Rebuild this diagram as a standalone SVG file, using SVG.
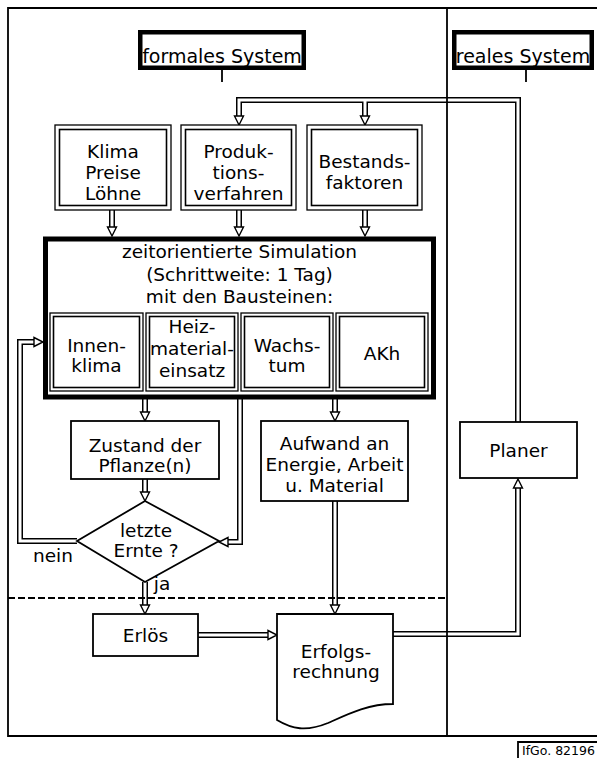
<svg xmlns="http://www.w3.org/2000/svg" width="597" height="758" viewBox="0 0 597 758">
<defs>
<style>
.t{font-family:"DejaVu Sans","Liberation Sans",sans-serif;font-size:18.5px;fill:#000;text-anchor:middle}
.ts{font-family:"DejaVu Sans","Liberation Sans",sans-serif;font-size:12.5px;fill:#000}
.box{fill:#fff;stroke:#000;stroke-width:1.8}
.dbo{fill:#fff;stroke:#000;stroke-width:1.3}
.dbi{fill:none;stroke:#000;stroke-width:1.6}
.thick{fill:#fff;stroke:#000;stroke-width:4.5}
.po{fill:none;stroke:#000;stroke-width:6;stroke-linejoin:miter}
.pi{fill:none;stroke:#fff;stroke-width:3;stroke-linejoin:miter;marker-end:url(#ah)}
.line{fill:none;stroke:#000;stroke-width:1.8}
.dash{fill:none;stroke:#000;stroke-width:1.8;stroke-dasharray:7 3}
</style>
<marker id="ah" viewBox="0 0 10 10" markerWidth="10" markerHeight="10" markerUnits="userSpaceOnUse" refX="0.5" refY="5" orient="auto" overflow="visible">
<path d="M0.5,0.5 L9.5,5 L0.5,9.5 Z" fill="#fff" stroke="#000" stroke-width="1.4"/>
</marker>
</defs>
<rect x="0" y="0" width="597" height="758" fill="#fff"/>

<g id="connectors">
<path class="po" d="M518,422 V100 H239 V116"/>
<path class="po" d="M365,100 V116"/>
<path class="po" d="M112,210 V227"/>
<path class="po" d="M239,210 V227"/>
<path class="po" d="M365,210 V227"/>
<path class="po" d="M145,399 V412"/>
<path class="po" d="M240,399 V542 H228"/>
<path class="po" d="M335,399 V412"/>
<path class="po" d="M145,479 V492"/>
<path class="po" d="M77,541 H20 V342 H34"/>
<path class="po" d="M145,582 V605"/>
<path class="po" d="M198,635 H268"/>
<path class="po" d="M335,501 V605"/>
<path class="po" d="M393,634 H518 V488"/>
<path class="pi" d="M518,422 V100 H239 V116"/>
<path class="pi" d="M365,100 V116"/>
<path class="pi" d="M112,210 V227"/>
<path class="pi" d="M239,210 V227"/>
<path class="pi" d="M365,210 V227"/>
<path class="pi" d="M145,399 V412"/>
<path class="pi" d="M240,399 V542 H228"/>
<path class="pi" d="M335,399 V412"/>
<path class="pi" d="M145,479 V492"/>
<path class="pi" d="M77,541 H20 V342 H34"/>
<path class="pi" d="M145,582 V605"/>
<path class="pi" d="M198,635 H268"/>
<path class="pi" d="M335,501 V605"/>
<path class="pi" d="M393,634 H518 V488"/>
</g>

<g id="frame">
<path class="line" d="M597,8 H8 V736 H597"/>
<path class="line" d="M447,8 V736"/>
<path class="dash" d="M8,598 H447"/>
</g>

<g id="formales-system">
<rect class="thick" x="140.25" y="32.25" width="163.5" height="35.5"/>
<path class="line" d="M222,70 V82"/>
<text class="t" x="222" y="63" style="font-size:19px">formales System</text>
</g>

<g id="reales-system">
<rect class="thick" x="454.25" y="32.25" width="137.5" height="35.5"/>
<path class="line" d="M526,70 V82"/>
<text class="t" x="523" y="63" style="font-size:19px">reales System</text>
</g>

<g id="klima">
<rect class="dbo" x="55" y="125" width="116" height="85"/>
<rect class="dbi" x="59.5" y="129.5" width="107" height="76"/>
<text class="t" x="113" y="158">Klima</text>
<text class="t" x="113" y="179">Preise</text>
<text class="t" x="113" y="200">Löhne</text>
</g>

<g id="produktionsverfahren">
<rect class="dbo" x="181" y="125" width="115" height="85"/>
<rect class="dbi" x="185.5" y="129.5" width="106" height="76"/>
<text class="t" x="238.5" y="158">Produk-</text>
<text class="t" x="238.5" y="179">tions-</text>
<text class="t" x="238.5" y="200">verfahren</text>
</g>

<g id="bestandsfaktoren">
<rect class="dbo" x="307" y="125" width="115" height="85"/>
<rect class="dbi" x="311.5" y="129.5" width="106" height="76"/>
<text class="t" x="364.5" y="168">Bestands-</text>
<text class="t" x="364.5" y="189">faktoren</text>
</g>

<g id="simulation">
<rect x="45.5" y="239" width="388" height="158" fill="#fff" stroke="#000" stroke-width="5"/>
<text class="t" x="239.5" y="258">zeitorientierte Simulation</text>
<text class="t" x="239.5" y="281">(Schrittweite: 1 Tag)</text>
<text class="t" x="239.5" y="303">mit den Bausteinen:</text>
</g>

<g id="innenklima">
<rect class="dbo" x="50" y="313" width="93" height="78"/>
<rect class="dbi" x="53.5" y="316.5" width="86" height="71"/>
<text class="t" x="96.5" y="352">Innen-</text>
<text class="t" x="96.5" y="372">klima</text>
</g>

<g id="heizmaterialeinsatz">
<rect class="dbo" x="146" y="313" width="92" height="78"/>
<rect class="dbi" x="149.5" y="316.5" width="85" height="71"/>
<text class="t" x="192" y="333">Heiz-</text>
<text class="t" x="192" y="355">material-</text>
<text class="t" x="192" y="377">einsatz</text>
</g>

<g id="wachstum">
<rect class="dbo" x="241" y="313" width="92" height="78"/>
<rect class="dbi" x="244.5" y="316.5" width="85" height="71"/>
<text class="t" x="287" y="352">Wachs-</text>
<text class="t" x="287" y="372">tum</text>
</g>

<g id="akh">
<rect class="dbo" x="336" y="313" width="92" height="78"/>
<rect class="dbi" x="339.5" y="316.5" width="85" height="71"/>
<text class="t" x="382" y="360">AKh</text>
</g>

<g id="zustand">
<rect class="box" x="71" y="421" width="148" height="58"/>
<text class="t" x="145" y="452">Zustand der</text>
<text class="t" x="145" y="472">Pflanze(n)</text>
</g>

<g id="aufwand">
<rect class="box" x="261" y="421" width="147" height="80"/>
<text class="t" x="334.5" y="450">Aufwand an</text>
<text class="t" x="334.5" y="471">Energie, Arbeit</text>
<text class="t" x="334.5" y="492">u. Material</text>
</g>

<g id="planer">
<rect class="box" x="460" y="422" width="117" height="56"/>
<text class="t" x="518.5" y="457">Planer</text>
</g>

<g id="letzte-ernte">
<polygon class="box" points="145,501 219,541 145,582 77,541"/>
<text class="t" x="146" y="537">letzte</text>
<text class="t" x="146" y="557">Ernte ?</text>
<text class="t" x="53" y="562">nein</text>
<text class="t" x="162" y="590">ja</text>
</g>

<g id="erloes">
<rect class="box" x="93" y="614" width="105" height="42"/>
<text class="t" x="145.5" y="642">Erlös</text>
</g>

<g id="erfolgsrechnung">
<path class="box" d="M277,614 H393 V704 C368,704 348,714 328,723 C306,732 292,729 277,720 Z"/>
<text class="t" x="336" y="658">Erfolgs-</text>
<text class="t" x="336" y="678">rechnung</text>
</g>

<g id="footer">
<path class="line" d="M518,758 V742 H597"/>
<text class="ts" x="522" y="755">IfGo. 82196</text>
</g>
</svg>
